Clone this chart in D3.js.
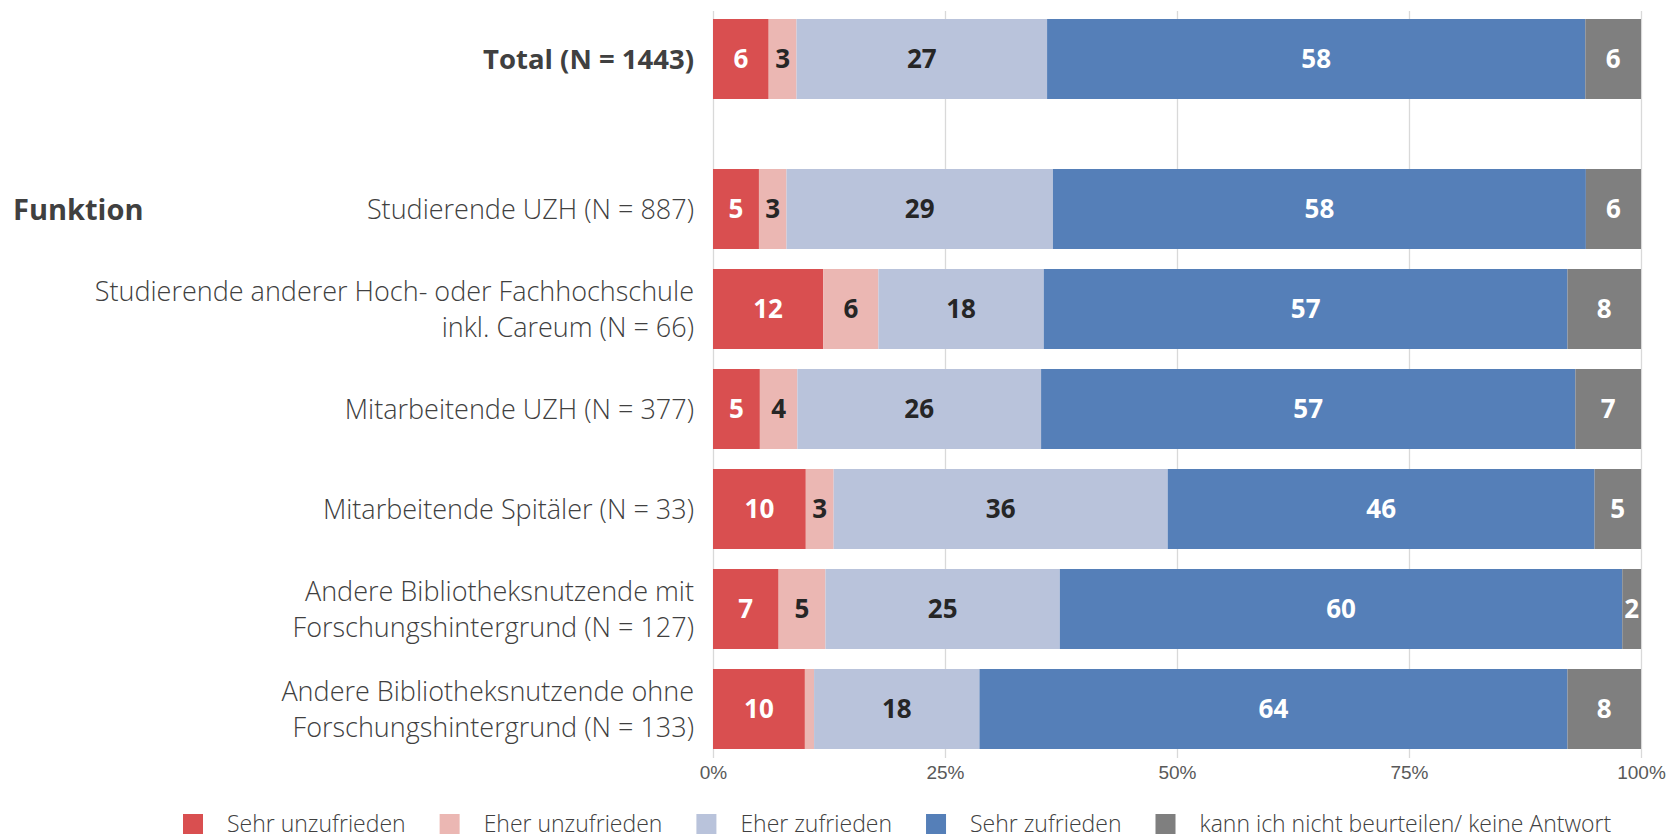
<!DOCTYPE html>
<html>
<head>
<meta charset="utf-8">
<script src="https://cdn.jsdelivr.net/npm/d3@7"></script>
<style>
  html, body { margin: 0; padding: 0; background: #ffffff; }
  svg { display: block; font-family: "Open Sans", "Noto Sans", sans-serif; }
</style>
</head>
<body>
<svg id="chart" width="1669" height="838"></svg>
<script>
// Response categories (stack order, left to right)
const categories = [
  "Sehr unzufrieden",
  "Eher unzufrieden",
  "Eher zufrieden",
  "Sehr zufrieden",
  "kann ich nicht beurteilen/ keine Antwort"
];
const colors = ["#D94F50", "#EBB7B3", "#B9C3DB", "#557FB8", "#7F7F7F"];
const labelColors = ["#ffffff", "#262626", "#262626", "#ffffff", "#ffffff"];

// Groups (rows); label lines split where the row label wraps
const groups = [
  ["Total (N = 1443)"],
  ["Studierende UZH (N = 887)"],
  ["Studierende anderer Hoch- oder Fachhochschule", "inkl. Careum (N = 66)"],
  ["Mitarbeitende UZH (N = 377)"],
  ["Mitarbeitende Spitäler (N = 33)"],
  ["Andere Bibliotheksnutzende mit", "Forschungshintergrund (N = 127)"],
  ["Andere Bibliotheksnutzende ohne", "Forschungshintergrund (N = 133)"]
];
const groupTitle = "Funktion";

// Percentages per row, one array per response category
const sehrUnzufrieden = [6, 5, 12, 5, 10, 7, 10];
const eherUnzufrieden = [3, 3, 6, 4, 3, 5, 1];
const eherZufrieden   = [27, 29, 18, 26, 36, 25, 18];
const sehrZufrieden   = [58, 58, 57, 57, 46, 60, 64];
const keineAntwort    = [6, 6, 8, 7, 5, 2, 8];

const tickValues = [0, 0.25, 0.5, 0.75, 1];

const series = [sehrUnzufrieden, eherUnzufrieden, eherZufrieden, sehrZufrieden, keineAntwort];
const rows = groups.map((g, i) => {
  const r = { key: i };
  categories.forEach((c, j) => { r[c] = series[j][i]; });
  return r;
});

const svg = d3.select("#chart");
const textColor = "#404040";

// Horizontal: share of respondents (each row sums to 100 %)
const x = d3.scaleLinear().domain([0, 1]).range([713, 1641]);

// Vertical: Total row sits apart from the breakdown rows by an extra half step
const rowPos = groups.map((g, i) => i === 0 ? 0 : i + 0.5);
const y = d3.scaleLinear().domain([0, 6.5]).range([19, 669]);
const bandH = 80;

// Grid
const gridG = svg.append("g")
  .attr("transform", "translate(0,758)")
  .call(d3.axisBottom(x).tickValues(tickValues).tickSize(-747).tickFormat(d3.format(".0%")).tickPadding(10));
gridG.select(".domain").remove();
gridG.selectAll(".tick line").attr("stroke", "#D9D9D9").attr("stroke-width", 1.3);
gridG.selectAll(".tick text")
  .attr("fill", "#595959")
  .style("font-size", "19px")
  .style("font-weight", "300")
  .attr("dy", "0.6em");

// Stacked bars
const stack = d3.stack().keys(categories).offset(d3.stackOffsetExpand);
const stacked = stack(rows);

const layers = svg.append("g").selectAll("g")
  .data(stacked)
  .join("g")
  .attr("fill", (d, i) => colors[i]);

layers.selectAll("rect")
  .data(d => d)
  .join("rect")
  .attr("x", d => x(d[0]))
  .attr("width", d => x(d[1]) - x(d[0]))
  .attr("y", (d, i) => y(rowPos[i]))
  .attr("height", bandH);

// Value labels
const lbl = svg.append("g");
stacked.forEach((layer, j) => {
  lbl.selectAll(null)
    .data(layer.filter(d => d.data[categories[j]] >= 2))
    .join("text")
    .attr("x", d => (x(d[0]) + x(d[1])) / 2)
    .attr("y", d => y(rowPos[d.data.key]) + bandH / 2)
    .attr("text-anchor", "middle")
    .attr("dy", "0.36em")
    .attr("fill", labelColors[j])
    .style("font-size", "26px")
    .style("font-weight", "700")
    .text(d => d.data[categories[j]]);
});

// Row labels
const rowLab = svg.append("g");
groups.forEach((lines, i) => {
  const cy = y(rowPos[i]) + bandH / 2;
  const t = rowLab.append("text")
    .attr("x", 694)
    .attr("text-anchor", "end")
    .attr("fill", textColor)
    .style("font-size", i === 0 ? "27.5px" : "27px")
    .style("font-weight", i === 0 ? "700" : "300");
  lines.forEach((line, k) => {
    t.append("tspan")
      .attr("x", 694)
      .attr("y", cy + (k - (lines.length - 1) / 2) * 36)
      .attr("dy", "0.36em")
      .text(line);
  });
});

// Group title
svg.append("text")
  .attr("x", 13)
  .attr("y", y(rowPos[1]) + bandH / 2)
  .attr("dy", "0.38em")
  .attr("fill", textColor)
  .style("font-size", "29px")
  .style("font-weight", "700")
  .text(groupTitle);

// Legend
const legend = svg.append("g").attr("transform", "translate(183,824)");
let lx = 0;
categories.forEach((c, i) => {
  const g = legend.append("g").attr("transform", `translate(${lx},0)`);
  g.append("rect").attr("x", 0).attr("y", -10).attr("width", 20).attr("height", 20).attr("fill", colors[i]);
  const t = g.append("text")
    .attr("x", 44)
    .attr("dy", "0.34em")
    .attr("fill", textColor)
    .style("font-size", "23px")
    .style("font-weight", "300")
    .text(c);
  lx += 44 + t.node().getComputedTextLength() + 34;
});
</script>
</body>
</html>
